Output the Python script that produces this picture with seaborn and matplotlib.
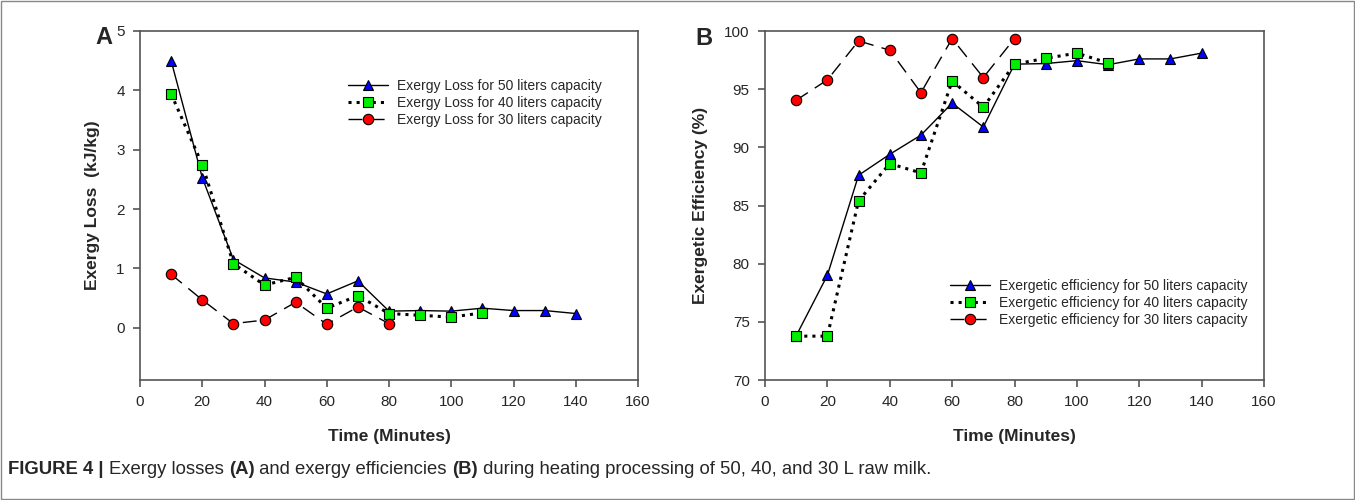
import matplotlib
matplotlib.use("Agg")
import matplotlib.pyplot as plt
import seaborn as sns
from matplotlib.patches import Rectangle

# Time points (minutes)
time_50 = [10, 20, 30, 40, 50, 60, 70, 80, 90, 100, 110, 120, 130, 140]
time_40 = [10, 20, 30, 40, 50, 60, 70, 80, 90, 100, 110]
time_30 = [10, 20, 30, 40, 50, 60, 70, 80]

# Panel A: exergy loss (kJ/kg)
loss_50 = [4.50, 2.53, 1.15, 0.84, 0.77, 0.57, 0.79, 0.28, 0.29, 0.28, 0.33, 0.29, 0.29, 0.24]
loss_40 = [3.94, 2.75, 1.08, 0.72, 0.85, 0.33, 0.54, 0.24, 0.21, 0.18, 0.25]
loss_30 = [0.90, 0.47, 0.07, 0.13, 0.43, 0.06, 0.35, 0.07]

# Panel B: exergetic efficiency (%)
eff_50 = [73.8, 79.0, 87.6, 89.4, 91.05, 93.8, 91.75, 97.15, 97.2, 97.45, 97.1, 97.6, 97.6, 98.1]
eff_40 = [73.77, 73.77, 85.4, 88.6, 87.8, 95.7, 93.45, 97.15, 97.65, 98.1, 97.25]
eff_30 = [94.05, 95.8, 99.15, 98.35, 94.7, 99.35, 96.0, 99.35]

labels_a = ["Exergy Loss for 50 liters capacity",
            "Exergy Loss for 40 liters capacity",
            "Exergy Loss for 30 liters capacity"]
labels_b = ["Exergetic efficiency for 50 liters capacity",
            "Exergetic efficiency for 40 liters capacity",
            "Exergetic efficiency for 30 liters capacity"]

sns.set_style("white")
plt.rcParams['font.family'] = ['Liberation Sans', 'DejaVu Sans']

fig = plt.figure(figsize=(13.55, 5.0), dpi=100)
ax_a = fig.add_axes([140 / 1355, 1 - 380 / 500, 498 / 1355, 349 / 500])
ax_b = fig.add_axes([765 / 1355, 1 - 380 / 500, 499 / 1355, 349 / 500])

styles = [
    dict(marker='^', color='black', linestyle='-', linewidth=1.0,
         markerfacecolor='#0000ff'),
    dict(marker='s', color='black', linestyle=':', linewidth=2.2,
         markerfacecolor='#00ee00'),
    dict(marker='o', color='black', linestyle=(0, (10, 6)), linewidth=1.0,
         markerfacecolor='#ff0000'),
]


def draw(ax, xs, ys, labels):
    for x, y, lab, st in zip(xs, ys, labels, styles):
        sns.lineplot(x=x, y=y, ax=ax, label=lab, markersize=7.5,
                     markeredgecolor='black', markeredgewidth=0.8, **st)
    for sp in ax.spines.values():
        sp.set_color('#555555')
        sp.set_linewidth(1.2)
    ax.tick_params(direction='out', length=5, width=1.2, color='#555555',
                   labelsize=11, left=True, bottom=True, pad=6)
    ax.set_xlim(0, 160)
    ax.set_xticks(range(0, 161, 20))
    ax.set_xlabel('Time (Minutes)', fontsize=12.5, fontweight='bold', labelpad=14)


def legend(ax, x, y):
    ax.legend(loc='upper left', bbox_to_anchor=(x, y), frameon=False,
              fontsize=10, handlelength=2.9, handletextpad=0.65,
              labelspacing=0.22, borderpad=0, borderaxespad=0)


draw(ax_a, [time_50, time_40, time_30], [loss_50, loss_40, loss_30], labels_a)
ax_a.set_ylim(-0.88, 5)
ax_a.set_yticks(range(0, 6))
ax_a.set_ylabel('Exergy Loss  (kJ/kg)', fontsize=12.5, fontweight='bold', labelpad=12)
legend(ax_a, 0.418, 0.862)

draw(ax_b, [time_50, time_40, time_30], [eff_50, eff_40, eff_30], labels_b)
ax_b.set_ylim(70, 100)
ax_b.set_yticks(range(70, 101, 5))
ax_b.set_ylabel('Exergetic Efficiency (%)', fontsize=12.5, fontweight='bold', labelpad=12)
legend(ax_b, 0.371, 0.289)

fig.text(95 / 1355, 1 - 37 / 500, 'A', fontsize=17, fontweight='bold', va='center')
fig.text(695 / 1355, 1 - 38.5 / 500, 'B', fontsize=17, fontweight='bold', va='center')

# outer border
fig.patches.append(Rectangle((0.001, 0.002), 0.998, 0.996, transform=fig.transFigure,
                             fill=False, edgecolor='#888888', linewidth=1.0))

# caption with mixed bold/normal pieces
pieces = [("FIGURE 4 | ", 'bold'), ("Exergy losses ", 'normal'), ("(A)", 'bold'),
          (" and exergy efficiencies ", 'normal'), ("(B)", 'bold'),
          (" during heating processing of 50, 40, and 30 L raw milk.", 'normal')]
fig.canvas.draw()
renderer = fig.canvas.get_renderer()
xpix = 8
for txt, w in pieces:
    t = fig.text(xpix / 1355, 1 - 469 / 500, txt, fontsize=13.3, fontweight=w,
                 va='center', ha='left')
    bb = t.get_window_extent(renderer=renderer)
    xpix += bb.width

fig.savefig('out.png', dpi=100)
